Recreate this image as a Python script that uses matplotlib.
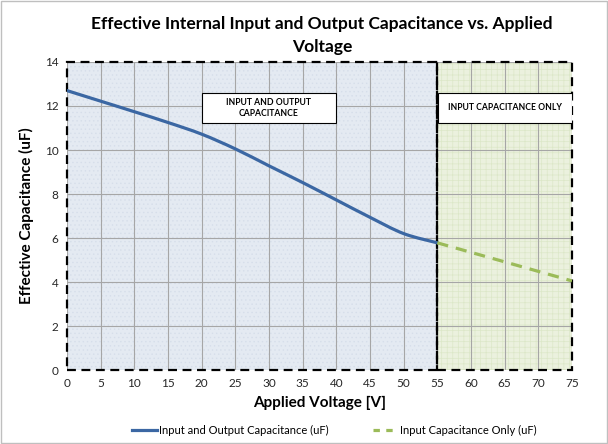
import matplotlib
matplotlib.use("Agg")
import matplotlib.pyplot as plt
import numpy as np
from matplotlib.path import Path
from matplotlib.patches import PathPatch, Rectangle
from matplotlib.lines import Line2D

plt.rcParams['font.family'] = ['Lato', 'DejaVu Sans']
plt.rcParams['hatch.linewidth'] = 0.5

# Data
v_io = [0, 5, 10, 15, 20, 25, 30, 35, 40, 45, 50, 55]
c_io = [12.7, 12.22, 11.74, 11.25, 10.72, 10.05, 9.28, 8.52, 7.73, 6.94, 6.2, 5.78]
v_in = [55, 75]
c_in = [5.78, 4.05]
x_ticks = list(range(0, 80, 5))
y_ticks = list(range(0, 16, 2))
title = "Effective Internal Input and Output Capacitance vs. Applied\nVoltage"
label_io = "Input and Output Capacitance (uF)"
label_in = "Input Capacitance Only (uF)"
box_io = "INPUT AND OUTPUT\nCAPACITANCE"
box_in = "INPUT CAPACITANCE ONLY"

blue = '#3b67a3'
green = '#9bbb59'

fig = plt.figure(figsize=(6.08, 4.44), dpi=100)
ax = fig.add_axes([67/608, 1-370/444, (572-67)/608, (370-62)/444])
ax.set_xlim(0, 75)
ax.set_ylim(0, 14)

# background regions
ax.axvspan(0, 55, color='#e4eaf2', zorder=0, lw=0)
ax.axvspan(55, 75, color='#ebf1de', zorder=0, lw=0)
ax.axvspan(0, 55, facecolor='none', edgecolor='#d6deea', hatch='....', lw=0, zorder=0.5)
ax.axvspan(55, 75, facecolor='none', edgecolor='#dce7c8', hatch='+++', lw=0, zorder=0.5)

ax.set_xticks(x_ticks)
ax.set_yticks(y_ticks)
ax.grid(True, color='#a6a6a6', lw=0.8, zorder=1)
ax.set_axisbelow(True)
for s in ax.spines.values():
    s.set_visible(False)
ax.tick_params(length=0, labelsize=8.5, colors='#262626', pad=6)

# dashed region borders
ax.add_patch(Rectangle((0, 0), 55, 14, fill=False, ec='black', lw=1.6, ls=(0, (4, 2.5)), zorder=4, clip_on=False))
ax.add_patch(Rectangle((55, 0), 20, 14, fill=False, ec='black', lw=1.6, ls=(0, (4, 2.5)), zorder=4, clip_on=False))

# smooth curve (Catmull-Rom -> Bezier)
pts = np.column_stack([v_io, c_io]).astype(float)
verts = [tuple(pts[0])]
codes = [Path.MOVETO]
n = len(pts)
for i in range(n - 1):
    p0 = pts[i - 1] if i > 0 else pts[i]
    p1 = pts[i]
    p2 = pts[i + 1]
    p3 = pts[i + 2] if i + 2 < n else pts[i + 1]
    c1 = p1 + (p2 - p0) / 6
    c2 = p2 - (p3 - p1) / 6
    verts += [tuple(c1), tuple(c2), tuple(p2)]
    codes += [Path.CURVE4] * 3
ax.add_patch(PathPatch(Path(verts, codes), fill=False, ec=blue, lw=2.3, zorder=5, capstyle='round'))

ax.plot(v_in, c_in, color=green, lw=2.3, ls=(0, (3.5, 2.5)), zorder=5)

# text boxes
ax.add_patch(Rectangle((20, 11.25), 20, 1.32, fc='white', ec='black', lw=0.8, zorder=6))
ax.text(30, 11.91, box_io, ha='center', va='center', fontsize=6.2, fontweight='bold', zorder=7, linespacing=1.3)
ax.add_patch(Rectangle((55.15, 11.25), 19.85, 1.32, fc='white', ec='black', lw=0.8, zorder=6))
ax.text(65, 11.91, box_in, ha='center', va='center', fontsize=6.2, fontweight='bold', zorder=7)

ax.set_xlabel("Applied Voltage [V]", fontsize=11, fontweight='bold', labelpad=5)
ax.set_ylabel("Effective Capacitance (uF)", fontsize=11, fontweight='bold', labelpad=8)

fig.text(0.53, 0.92, title, ha='center', va='center', fontsize=12.5, fontweight='bold', linespacing=1.5)

handles = [Line2D([], [], color=blue, lw=2.3),
           Line2D([], [], color=green, lw=2.3, ls=(0, (2, 2)))]
fig.legend(handles, [label_io, label_in], loc='center', bbox_to_anchor=(0.55, 0.03),
           ncol=2, frameon=False, fontsize=8, handlelength=2.2, handletextpad=0.2, columnspacing=4)

fig.patches.append(Rectangle((0.001, 0.002), 0.997, 0.996, transform=fig.transFigure,
                             fill=False, ec='#bfbfbf', lw=1))

fig.savefig('out.png', dpi=100)
